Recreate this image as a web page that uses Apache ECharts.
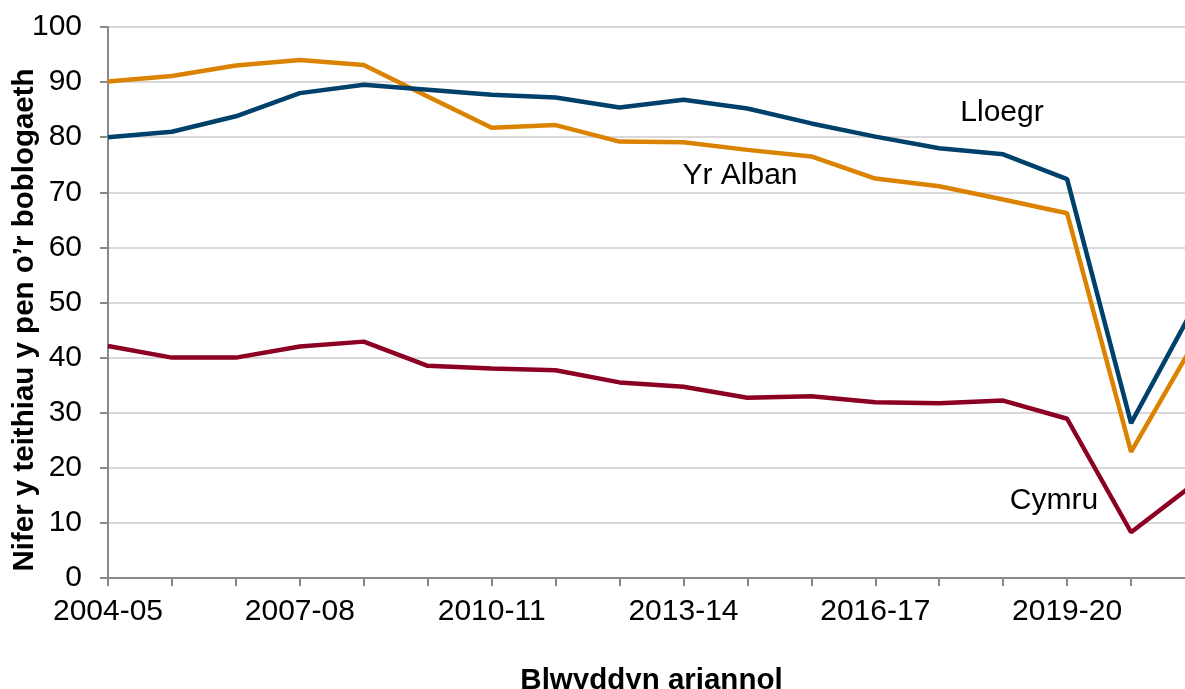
<!DOCTYPE html>
<html>
<head>
<meta charset="utf-8">
<script src="https://cdn.jsdelivr.net/npm/echarts@6/dist/echarts.min.js"></script>
<style>
  html, body { margin: 0; padding: 0; background: #fff; overflow: hidden; }
  #main { width: 1185px; height: 689px; }
</style>
</head>
<body>
<div id="main"></div>
<script>
var years = ['2004-05', '2005-06', '2006-07', '2007-08', '2008-09', '2009-10', '2010-11', '2011-12', '2012-13',
  '2013-14', '2014-15', '2015-16', '2016-17', '2017-18', '2018-19', '2019-20', '2020-21', '2021-22']
var lloegr = [80, 81, 83.8, 88, 89.5, 88.6, 87.7, 87.2, 85.4, 86.8, 85.2, 82.5, 80.1, 78, 76.9, 72.4, 28.1, 49.5]
var yrAlban = [90.1, 91.1, 93, 94, 93.1, 87.4, 81.7, 82.2, 79.2, 79.1, 77.7, 76.5, 72.5, 71.1, 68.7, 66.2, 22.9, 43]
var cymru = [42.1, 40, 40, 42, 42.9, 38.5, 38, 37.7, 35.5, 34.7, 32.7, 33, 31.9, 31.7, 32.2, 28.9, 8.3, 17.2]

var fontName = 'Liberation Sans, Arial, sans-serif'

var myChart = echarts.init(document.getElementById('main'), null, { renderer: 'canvas' })

function lineSeries(name, data, color) {
  return {
    name: name,
    type: 'line',
    data: data,
    symbol: 'none',
    lineStyle: { color: color, width: 4.5 },
    itemStyle: { color: color },
    z: 3
  }
}

// labels for the three lines, placed where the original puts them
function lineLabel(text, x, y) {
  return {
    type: 'text', x: x, y: y,
    style: { text: text, fontSize: 30, fill: '#000', fontFamily: fontName, align: 'center', verticalAlign: 'middle' }
  }
}

var option = {
  backgroundColor: '#fff',
  animation: false,
  textStyle: { fontFamily: fontName, color: '#000' },
  grid: { left: 108, right: -10, top: 27, bottom: 111, outerBoundsMode: 'none', containLabel: false },
  xAxis: {
    type: 'category',
    data: years,
    boundaryGap: false,
    name: 'Blwyddyn ariannol',
    nameLocation: 'middle',
    nameGap: 88,
    nameTextStyle: { fontSize: 29.5, fontWeight: 'bold', color: '#000', fontFamily: fontName },
    axisLine: { lineStyle: { color: '#898989', width: 2 } },
    axisTick: { show: true, length: 8, interval: 0, alignWithLabel: true, lineStyle: { color: '#898989', width: 2 } },
    axisLabel: { interval: 2, fontSize: 30, color: '#000', margin: 19, fontFamily: fontName },
    splitLine: { show: false }
  },
  yAxis: {
    type: 'value',
    min: 0,
    max: 100,
    interval: 10,
    axisLine: { show: true, lineStyle: { color: '#898989', width: 2 } },
    axisTick: { show: true, length: 8, lineStyle: { color: '#898989', width: 2 } },
    axisLabel: { fontSize: 30, color: '#000', margin: 26, fontFamily: fontName },
    splitLine: { show: true, lineStyle: { color: '#d9d9d9', width: 2 } }
  },
  series: [
    lineSeries('Cymru', cymru, '#8c0023'),
    lineSeries('Yr Alban', yrAlban, '#db8300'),
    lineSeries('Lloegr', lloegr, '#00416b')
  ],
  graphic: [
    {
      type: 'text', x: 25, y: 320, rotation: Math.PI / 2,
      style: {
        text: 'Nifer y teithiau y pen o\u2019r boblogaeth', fontSize: 29.5, fontWeight: 'bold',
        fill: '#000', fontFamily: fontName, align: 'center', verticalAlign: 'middle'
      }
    },
    lineLabel('Lloegr', 1002, 113),
    lineLabel('Yr Alban', 740, 176),
    lineLabel('Cymru', 1054, 501)
  ]
}

myChart.setOption(option)
</script>
</body>
</html>
